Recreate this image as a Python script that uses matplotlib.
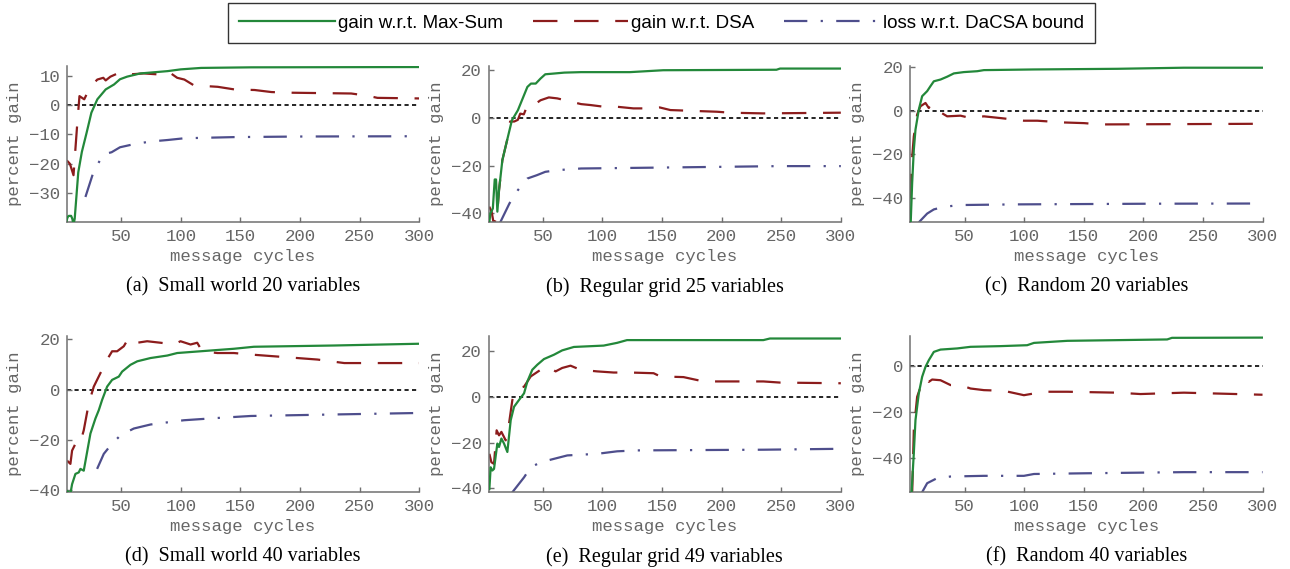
import matplotlib
matplotlib.use("Agg")
import matplotlib.pyplot as plt
from matplotlib.lines import Line2D

# (a) small world, 20 variables
sw20_cycles_maxsum = [4, 5, 6, 8, 9, 10, 11, 14, 17, 21, 25, 30, 37, 44, 49, 55, 66, 89, 100, 117, 159, 300]
sw20_maxsum = [-40, -38.5, -38, -38, -39, -41, -39, -23, -16, -9.4, -2.5, 2.1, 5.5, 7.2, 9, 9.9, 11, 11.8, 12.4, 12.9, 13.1, 13.2]
sw20_cycles_dsa = [4, 5, 7, 10, 13, 15, 19, 24, 30, 35, 37, 41, 47, 52, 58, 69, 80, 89, 97, 103, 111, 131, 145, 162, 176, 187, 243, 250, 257, 265, 300]
sw20_dsa = [-19, -19.2, -20.1, -24, -7.1, 3.2, 2.1, 6.4, 8.9, 9.5, 8.6, 9.9, 11, 11.5, 10.7, 11, 10.7, 11.8, 9.5, 8.9, 6.9, 6.4, 5.5, 5.3, 4.6, 4.4, 4.1, 3.7, 3.3, 2.6, 2.4]
sw20_cycles_bound = [20, 27, 35, 42, 49, 61, 75, 89, 103, 145, 201, 300]
sw20_bound = [-31.5, -22.6, -16.9, -16.1, -14.4, -13.3, -12.4, -11.9, -11.3, -10.9, -10.7, -10.6]

# (b) regular grid, 25 variables
grid25_cycles_maxsum = [5, 6, 8, 9.6, 10.7, 11.8, 13.2, 16, 20, 24, 29, 33, 37, 40, 44, 48, 52, 59, 68, 82, 123, 151, 246, 249, 300]
grid25_maxsum = [-44, -40, -38, -25.8, -25.8, -39.3, -30.3, -17.7, -9.3, -1, 3.2, 8.1, 13, 14.4, 14.4, 16.5, 18.3, 18.6, 19, 19.2, 19.2, 20, 20.2, 20.7, 20.7]
grid25_cycles_dsa = [5, 7, 9, 11.8, 13.2, 16, 20, 22.5, 26, 29, 31, 34, 37, 41, 48, 55, 62, 68, 82, 90, 101, 112, 126, 137, 148, 157, 179, 196, 207, 235, 300]
grid25_dsa = [-37.2, -39.3, -45, -39.3, -30.3, -17.7, -9.3, -1.5, -1.5, -0.8, 1.8, 1.5, 5.3, 4.9, 7.4, 8.6, 8.2, 7.5, 5.8, 5.4, 4.7, 4.7, 4, 4, 4.4, 3.3, 2.9, 2.6, 2.2, 1.9, 2.2]
grid25_cycles_bound = [14, 22, 29, 37, 45, 52, 62, 82, 151, 249, 300]
grid25_bound = [-44, -35.8, -30.3, -25.4, -24, -22.6, -21.9, -21.2, -20.8, -20.2, -20.2]

# (c) random, 20 variables
rand20_cycles_maxsum = [4.8, 6, 7.4, 8.8, 11.6, 14.4, 18.6, 21.4, 24.2, 29.8, 35.4, 41, 49.4, 60.6, 66.2, 108, 178, 234, 300]
rand20_maxsum = [-51, -33.2, -17.9, -8.7, 0.5, 6.6, 8.9, 11.2, 13.4, 14.2, 15.5, 17, 17.6, 18, 18.5, 18.8, 19.1, 19.6, 19.6]
rand20_cycles_dsa = [4.8, 5.4, 7.4, 10.2, 13, 17.2, 20, 21.4, 24.2, 28.4, 35.4, 46.6, 55, 66.2, 80.2, 99.8, 111, 133.4, 150.2, 164.2, 300]
rand20_dsa = [-40, -25.5, -11.8, -1.8, 2, 3.5, 1.2, 2.7, 1.2, -0.3, -2.6, -2.3, -3.4, -2.6, -3.4, -4.6, -4.6, -5.4, -5.7, -6.3, -6]
rand20_cycles_bound = [11.6, 18.6, 24.2, 32.6, 46.6, 94, 206, 300]
rand20_bound = [-51, -47, -45.1, -43.9, -43.1, -42.8, -42.5, -42.4]

# (d) small world, 40 variables
sw40_cycles_maxsum = [4.6, 7.4, 8.8, 11.6, 14.4, 15.8, 18.6, 21.4, 24.2, 28.4, 31.2, 34, 38.2, 42.4, 48, 50.8, 57.8, 63.5, 74.6, 88.7, 97, 116.6, 144.6, 161.4, 228.6, 300]
sw40_maxsum = [-40.4, -41.5, -37.7, -33.6, -33, -31.6, -32.3, -24.9, -17.5, -11.5, -8.2, -4.1, 1.2, 3.9, 5.2, 7.2, 9.9, 11.3, 12.6, 13.6, 14.6, 15.3, 16.3, 17.1, 17.6, 18.3]
sw40_cycles_dsa = [4.6, 7.4, 8.8, 11.6, 14.4, 15.8, 18.6, 22.8, 27, 32.6, 38.2, 42.4, 46.6, 52.2, 56.4, 63.5, 71.8, 83, 94.2, 99.8, 108.2, 113.8, 118, 130.7, 144.6, 158.7, 186.7, 214.7, 237.2, 300]
sw40_dsa = [-28.3, -29.6, -24.3, -21.6, -22.3, -21, -16.2, -5.5, 1.2, 6.6, 12, 15.3, 15.3, 17.3, 20.7, 18.7, 19.3, 18.7, 18, 19.3, 18, 18.7, 15.3, 14.6, 14.6, 14, 13, 12, 10.6, 10.6]
sw40_cycles_bound = [29.8, 35.4, 41, 49.4, 60.6, 74.6, 102.6, 130.7, 158.7, 228.6, 300]
sw40_bound = [-31.6, -25.6, -22.3, -18.2, -15.5, -13.9, -12.2, -11.3, -10.5, -9.9, -9.3]

# (e) regular grid, 49 variables
grid49_cycles_maxsum = [5.1, 6.2, 7.6, 9, 11.8, 13.2, 15.2, 17.4, 20.2, 23, 25.8, 30, 34.2, 37, 41.1, 45.3, 50.9, 59.3, 66.2, 76, 101, 112.3, 120.6, 179.3, 235, 240.5, 300]
grid49_maxsum = [-40.3, -30.8, -32.2, -31.5, -20.4, -21.9, -18.2, -20.4, -24.1, -10.2, -4.3, -1.3, 1.6, 6.8, 11.9, 14.1, 16.6, 18.5, 20.4, 21.9, 22.5, 23.7, 24.9, 24.9, 24.9, 25.6, 25.6]
grid49_cycles_dsa = [5.1, 6.8, 9, 11.2, 13.2, 15.2, 18.8, 20.8, 24.4, 29.2, 34.2, 39.8, 48.1, 53.7, 60.7, 66.2, 73.2, 81.5, 95.5, 109.4, 123.4, 142.9, 148.5, 168, 184.8, 235, 249, 300]
grid49_dsa = [-24.9, -28.6, -29.3, -14.6, -16.8, -15.3, -19, -14.6, -1.3, 3.8, 4.5, 9, 11.9, 13.4, 11.2, 12.7, 13.7, 11.9, 11.2, 10.7, 10.7, 10.4, 9, 8.7, 6.8, 6.8, 6.3, 6]
grid49_cycles_bound = [24, 34.2, 39.8, 48.1, 59.3, 70.5, 95.6, 112.3, 129, 235, 300]
grid49_bound = [-42, -35.2, -30.8, -28.6, -27.1, -25.6, -24.9, -23.8, -23.4, -23.1, -22.7]

# (f) random, 40 variables
rand40_cycles_maxsum = [5.4, 7.4, 8.8, 11.6, 14.4, 17.2, 20, 24.2, 29.8, 43.8, 55, 80.2, 102.5, 108.2, 136.2, 220, 224, 300]
rand40_maxsum = [-56, -37.8, -23.4, -11.8, -4.6, -0.3, 2.6, 6.2, 7.2, 7.7, 8.4, 8.7, 9.1, 10.1, 11, 11.6, 12.3, 12.4]
rand40_cycles_dsa = [6, 7.4, 10.2, 13.6, 17.2, 20, 22.8, 29.8, 38.2, 46.6, 55, 66.2, 83, 99.8, 116.5, 136.2, 178, 197.6, 234, 300]
rand40_dsa = [-56, -27.7, -13.3, -8.2, -5.3, -6.8, -5.8, -6.1, -8.2, -8.2, -9.7, -10.4, -10.7, -12.6, -11.1, -11.1, -11.5, -12.1, -11.5, -12.4]
rand40_cycles_bound = [13, 18.6, 27, 38.2, 66.2, 99.8, 108.2, 150.2, 234, 300]
rand40_bound = [-56, -50.8, -48.6, -47.9, -47.6, -47.6, -46.8, -46.5, -46, -46]

captions = ['(a)  Small world 20 variables', '(b)  Regular grid 25 variables', '(c)  Random 20 variables',
            '(d)  Small world 40 variables', '(e)  Regular grid 49 variables', '(f)  Random 40 variables']
series_labels = ['gain w.r.t. Max-Sum', 'gain w.r.t. DSA', 'loss w.r.t. DaCSA bound']
x_ticks = [50, 100, 150, 200, 250, 300]

GREEN = '#23883a'
RED = '#8c1c1c'
PURPLE = '#4e4e8c'
GREY = '#666666'
LW = 1.6
DASHED = (0, (11, 7.5))
DASHDOT = (0, (10.5, 6, 1, 6))

panels = [
    (sw20_cycles_maxsum, sw20_maxsum, sw20_cycles_dsa, sw20_dsa, sw20_cycles_bound, sw20_bound),
    (grid25_cycles_maxsum, grid25_maxsum, grid25_cycles_dsa, grid25_dsa, grid25_cycles_bound, grid25_bound),
    (rand20_cycles_maxsum, rand20_maxsum, rand20_cycles_dsa, rand20_dsa, rand20_cycles_bound, rand20_bound),
    (sw40_cycles_maxsum, sw40_maxsum, sw40_cycles_dsa, sw40_dsa, sw40_cycles_bound, sw40_bound),
    (grid49_cycles_maxsum, grid49_maxsum, grid49_cycles_dsa, grid49_dsa, grid49_cycles_bound, grid49_bound),
    (rand40_cycles_maxsum, rand40_maxsum, rand40_cycles_dsa, rand40_dsa, rand40_cycles_bound, rand40_bound),
]
y_limits = [(-40, 13.5), (-43.5, 21.7), (-50.7, 20.3), (-40.7, 21.3), (-41.5, 26.6), (-54.5, 13)]
y_ticks = [[-30, -20, -10, 0, 10], [-40, -20, 0, 20], [-40, -20, 0, 20],
           [-40, -20, 0, 20], [-40, -20, 0, 20], [-40, -20, 0]]

fig = plt.figure(figsize=(12.9, 5.69), dpi=100, facecolor='white')

col_left = [0.0519, 0.3788, 0.7057]
row_bottom = [0.6104, 0.1358]
ax_w, ax_h = 0.273, 0.2733

mono = 'Liberation Mono'

for i, data in enumerate(panels):
    row, col = divmod(i, 3)
    ax = fig.add_axes([col_left[col], row_bottom[row], ax_w, ax_h])
    xm, ym, xd, yd, xb, yb = data

    ax.axhline(0, color='black', lw=1.2, linestyle=(0, (2.5, 2)), zorder=1)
    ax.plot(xm, ym, color=GREEN, lw=LW, solid_joinstyle='round', zorder=3)
    ax.plot(xd, yd, color=RED, lw=LW, linestyle=DASHED, zorder=2)
    ax.plot(xb, yb, color=PURPLE, lw=LW, linestyle=DASHDOT, zorder=2)

    ax.set_xlim(4.5, 300)
    ax.set_ylim(*y_limits[i])
    ax.set_xticks(x_ticks)
    ax.set_yticks(y_ticks[i])

    for side in ['top', 'right']:
        ax.spines[side].set_visible(False)
    for side in ['left', 'bottom']:
        ax.spines[side].set_color('#707070')
        ax.spines[side].set_linewidth(1.1)

    ax.tick_params(direction='in', length=3.5, width=1, color='#707070',
                   labelcolor=GREY, labelsize=12.5, pad=5)
    for lbl in ax.get_xticklabels() + ax.get_yticklabels():
        lbl.set_fontfamily(mono)

    ax.set_xlabel('message cycles', fontsize=12.5, family=mono, color=GREY, labelpad=4)
    ax.set_ylabel('percent gain', fontsize=12.5, family=mono, color=GREY)
    ax.yaxis.set_label_coords(-0.128, 0.5)

    ax.text(0.5, -0.42, captions[i], transform=ax.transAxes, ha='center', va='center',
            fontsize=14.5, family='Liberation Serif', color='black')

handles = [
    Line2D([], [], color=GREEN, lw=LW),
    Line2D([], [], color=RED, lw=LW, linestyle=DASHED),
    Line2D([], [], color=PURPLE, lw=LW, linestyle=DASHDOT),
]
leg = fig.legend(handles, series_labels, loc='center', bbox_to_anchor=(0.5128, 0.9596), ncol=3,
                 fancybox=False, frameon=True, edgecolor='black', handlelength=5.1,
                 handletextpad=0.15, columnspacing=1.6, borderpad=0.6,
                 prop={'family': 'Liberation Sans', 'size': 13.5})
leg.get_frame().set_linewidth(1.0)

fig.savefig('out.png', dpi=100, facecolor='white')
